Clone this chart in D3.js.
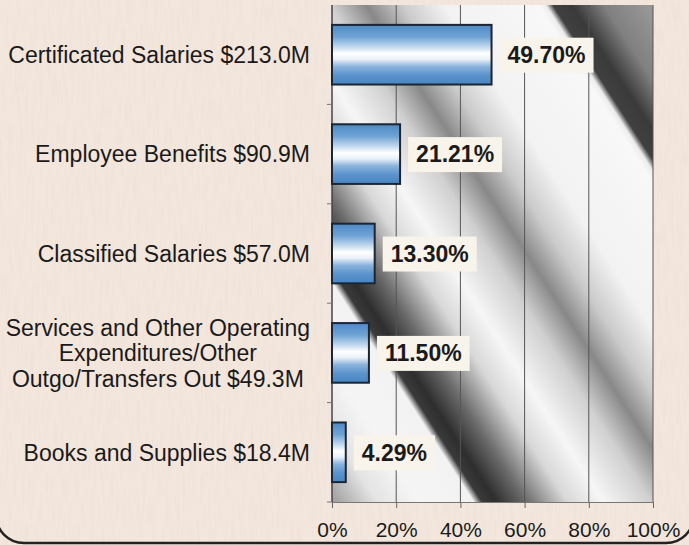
<!DOCTYPE html>
<html>
<head>
<meta charset="utf-8">
<script src="https://cdn.jsdelivr.net/npm/d3@7"></script>
<style>
  body { margin: 0; background: #f3e6dc; }
  svg { display: block; font-family: "Liberation Sans", Arial, sans-serif; }
</style>
</head>
<body>
<div id="chart"></div>
<script>
// data
const categories = [
  ["Certificated Salaries $213.0M"],
  ["Employee Benefits $90.9M"],
  ["Classified Salaries $57.0M"],
  ["Services and Other Operating", "Expenditures/Other", "Outgo/Transfers Out $49.3M"],
  ["Books and Supplies $18.4M"]
];
const shares = [49.70, 21.21, 13.30, 11.50, 4.29];
const xTicks = [0, 20, 40, 60, 80, 100];

const width = 689, height = 545;
const plotL = 332, plotR = 653, plotT = 5, plotB = 502;

const svg = d3.select("#chart").append("svg")
  .attr("width", width)
  .attr("height", height);

const defs = svg.append("defs");

// faint woven-paper texture
const paper = defs.append("filter").attr("id", "paper")
  .attr("x", 0).attr("y", 0).attr("width", 1).attr("height", 1);
paper.append("feTurbulence")
  .attr("type", "fractalNoise")
  .attr("baseFrequency", "0.35 0.04")
  .attr("numOctaves", 2)
  .attr("seed", 3);
paper.append("feColorMatrix")
  .attr("type", "matrix")
  .attr("values", "0 0 0 0 0.78  0 0 0 0 0.66  0 0 0 0 0.60  0 0 0 -1.6 0.9");

svg.append("rect")
  .attr("width", width).attr("height", height)
  .attr("fill", "#f3e6dc");
svg.append("rect")
  .attr("width", width).attr("height", height)
  .attr("filter", "url(#paper)")
  .attr("opacity", 0.35);

// diagonal folded-paper shading behind the plot
const bgStops = [
  [0, "#9a9a9a"], [13, "#a8a8a8"], [45, "#e4e4e4"], [80, "#f5f5f5"], [126, "#f2f2f2"],
  [133, "#3a3a3a"], [145, "#2e2e2e"], [170, "#6a6a6a"], [205, "#d8d8d8"], [235, "#f6f6f6"],
  [275, "#d0d0d0"], [305, "#888"], [335, "#cbcbcb"], [370, "#f2f2f2"], [450, "#f8f8f8"],
  [456, "#ececec"], [462, "#404040"], [478, "#3a3a3a"], [505, "#808080"], [546, "#9a9a9a"]
];
const bg = defs.append("linearGradient")
  .attr("id", "bg")
  .attr("gradientUnits", "userSpaceOnUse")
  .attr("x1", 0).attr("y1", 0)
  .attr("x2", 546 * 0.84).attr("y2", -546 * 0.542);
bg.selectAll("stop").data(bgStops).enter().append("stop")
  .attr("offset", d => d[0] / 546)
  .attr("stop-color", d => d[1]);

const barStops = [
  [0, "#4d8ac6"], [0.2, "#6fa2d4"], [0.38, "#c8dcef"], [0.48, "#ffffff"],
  [0.58, "#e8f0f8"], [0.7, "#8ab2dc"], [0.85, "#5a92cc"], [1, "#4a86c2"]
];
const barGrad = defs.append("linearGradient")
  .attr("id", "bar")
  .attr("x1", 0).attr("y1", 0).attr("x2", 0).attr("y2", 1);
barGrad.selectAll("stop").data(barStops).enter().append("stop")
  .attr("offset", d => d[0])
  .attr("stop-color", d => d[1]);

const x = d3.scaleLinear().domain([0, 100]).range([plotL, plotR]);
const y = d3.scaleBand().domain(d3.range(shares.length)).range([plotT, plotB])
  .paddingInner(0.4).paddingOuter(0.2);

svg.append("rect")
  .attr("x", plotL).attr("y", plotT)
  .attr("width", plotR - plotL).attr("height", plotB - plotT)
  .attr("fill", "url(#bg)");

// vertical grid
svg.selectAll("line.grid").data(xTicks.slice(1)).enter().append("line")
  .attr("class", "grid")
  .attr("x1", d => x(d)).attr("x2", d => x(d))
  .attr("y1", plotT).attr("y2", plotB)
  .attr("stroke", "#555")
  .attr("stroke-width", 1);

// x axis
const xAxis = svg.append("g")
  .attr("transform", "translate(0," + plotB + ")")
  .call(d3.axisBottom(x).tickValues(xTicks).tickFormat(d => d + "%").tickSize(6).tickSizeOuter(0));
xAxis.select(".domain").attr("stroke", "#777");
xAxis.selectAll(".tick line").attr("stroke", "#666");
xAxis.selectAll(".tick text")
  .attr("y", 20)
  .attr("fill", "#1a1a1a")
  .style("font-family", "'Liberation Sans', Arial, sans-serif")
  .style("font-size", "21px");

// y axis line with band ticks
const step = y.step();
const boundaries = d3.range(shares.length + 1).map(i => plotT + i * step);
svg.append("line")
  .attr("x1", plotL).attr("x2", plotL).attr("y1", plotT).attr("y2", plotB)
  .attr("stroke", "#444").attr("stroke-width", 1.5);
svg.selectAll("line.ytick").data(boundaries.slice(1)).enter().append("line")
  .attr("class", "ytick")
  .attr("x1", plotL - 5).attr("x2", plotL)
  .attr("y1", d => d).attr("y2", d => d)
  .attr("stroke", "#777");

// bars
svg.selectAll("rect.bar").data(shares).enter().append("rect")
  .attr("class", "bar")
  .attr("x", x(0))
  .attr("y", (d, i) => y(i))
  .attr("width", d => x(d) - x(0))
  .attr("height", y.bandwidth())
  .attr("fill", "url(#bar)")
  .attr("stroke", "#1c2633")
  .attr("stroke-width", 2);

// value labels in light boxes
const vals = svg.selectAll("g.val").data(shares).enter().append("g")
  .attr("class", "val")
  .attr("transform", (d, i) => "translate(" + (x(d) + 8) + "," + (y(i) + y.bandwidth() / 2) + ")");
vals.append("rect")
  .attr("fill", "#f8f3eb");
vals.append("text")
  .attr("x", 8)
  .attr("dy", "0.36em")
  .attr("fill", "#1a1a1a")
  .style("font-size", "23px")
  .style("font-weight", "bold")
  .text(d => d3.format(".2f")(d) + "%");
vals.each(function () {
  const g = d3.select(this);
  const w = g.select("text").node().getComputedTextLength();
  g.select("rect").attr("x", 0).attr("y", -17).attr("width", w + 16).attr("height", 35);
});

// category labels: single lines end at x=310, wrapped ones are centred as a block
const labelRight = 310;
const cats = svg.selectAll("text.cat").data(categories).enter().append("text")
  .attr("class", "cat")
  .attr("fill", "#1a1a1a")
  .style("font-size", "23px");
cats.selectAll("tspan").data(d => d).enter().append("tspan")
  .attr("x", 0)
  .attr("y", (d, i, n) => (i - (n.length - 1) / 2) * 25.5)
  .attr("dy", "0.36em")
  .text(d => d);
cats.each(function (d, i) {
  const t = d3.select(this);
  const cy = y(i) + y.bandwidth() / 2;
  if (d.length === 1) {
    t.attr("text-anchor", "end").attr("transform", "translate(" + labelRight + "," + cy + ")");
  } else {
    const widest = d3.max(t.selectAll("tspan").nodes(), n => n.getComputedTextLength());
    t.attr("text-anchor", "middle").attr("transform", "translate(" + (labelRight - widest / 2) + "," + cy + ")");
  }
});

// rounded page frame
svg.append("rect")
  .attr("x", -4).attr("y", -60)
  .attr("width", 698).attr("height", 603)
  .attr("rx", 28)
  .attr("fill", "none")
  .attr("stroke", "#222")
  .attr("stroke-width", 2.5);
</script>
</body>
</html>
